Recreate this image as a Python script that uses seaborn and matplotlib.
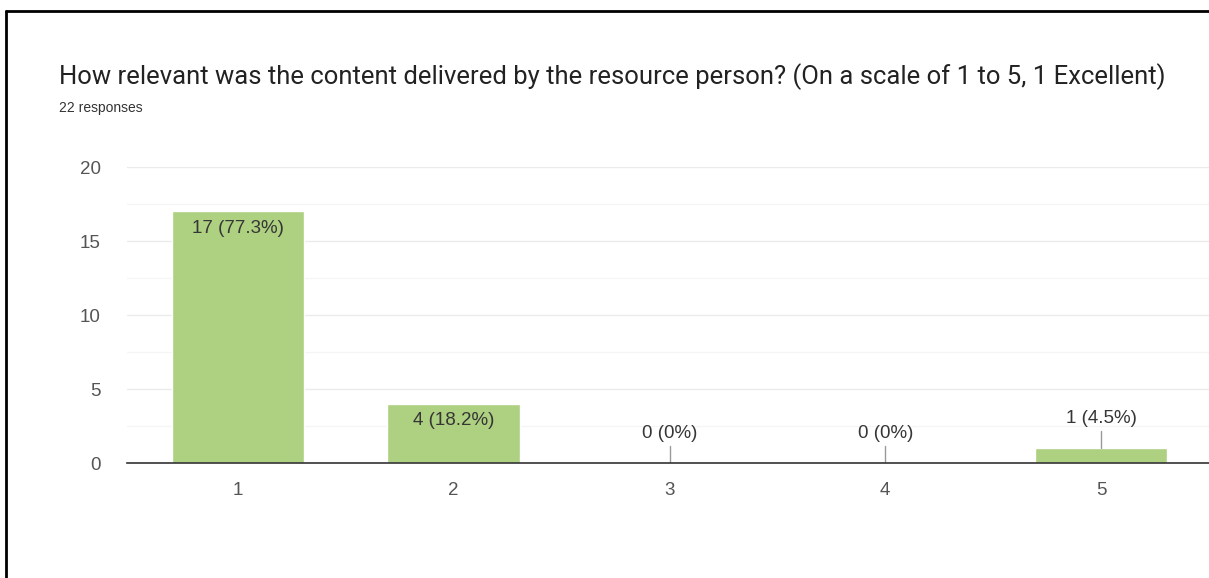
import matplotlib

matplotlib.use("Agg")
import matplotlib.pyplot as plt
import pandas as pd
import seaborn as sns
from matplotlib.lines import Line2D

categories = ["1", "2", "3", "4", "5"]
counts = [17, 4, 0, 0, 1]
percent_labels = ["77.3%", "18.2%", "0%", "0%", "4.5%"]
y_ticks = [0, 5, 10, 15, 20]

title = "How relevant was the content delivered by the resource person? (On a scale of 1 to 5, 1 Excellent)"
subtitle = "22 responses"

BAR_COLOR = "#aed081"
TICK_COLOR = "#555555"
LABEL_COLOR = "#363636"
CHART_FONT = ["Liberation Sans", "DejaVu Sans"]

df = pd.DataFrame({"rating": categories, "count": counts, "pct": percent_labels})

sns.set_theme(style="white")
plt.rcParams["font.family"] = ["Roboto", "DejaVu Sans"]

fig = plt.figure(figsize=(12.09, 5.78), dpi=100)
ax = fig.add_axes([127 / 1209, 1 - 463 / 578, 1 - 127 / 1209, (463 - 167) / 578])

sns.barplot(data=df, x="rating", y="count", color=BAR_COLOR, width=0.615, saturation=1, ax=ax)

ax.set_ylim(0, 20)
ax.set_xlim(-0.514, 4.5)
ax.set_yticks(y_ticks)
ax.set_yticks([2.5, 7.5, 12.5, 17.5], minor=True)
ax.grid(axis="y", which="major", color="#ebebeb", linewidth=1)
ax.grid(axis="y", which="minor", color="#f5f5f5", linewidth=1)
ax.set_axisbelow(True)
for side in ["top", "right", "left"]:
    ax.spines[side].set_visible(False)
ax.spines["bottom"].set_color("#333333")
ax.spines["bottom"].set_linewidth(1.2)
ax.tick_params(axis="both", length=0, labelsize=13.5, colors=TICK_COLOR)
ax.tick_params(axis="y", pad=19)
ax.tick_params(axis="x", pad=14)
for lbl in ax.get_xticklabels() + ax.get_yticklabels():
    lbl.set_family(CHART_FONT)
ax.set_xlabel("")
ax.set_ylabel("")

# value labels: inside tall bars, above short bars with a leader line
for i, (c, p) in enumerate(zip(counts, percent_labels)):
    if c >= 3:
        ax.text(i, c - 0.55, f"{c} ({p})", ha="center", va="top", fontsize=13.5,
                color=LABEL_COLOR, family=CHART_FONT)
    else:
        ax.plot([i, i], [c, c + 1.15], color="#999999", linewidth=1)
        ax.text(i, c + 1.45, f"{c} ({p})", ha="center", va="bottom", fontsize=13.5,
                color=LABEL_COLOR, family=CHART_FONT)

fig.text(59 / 1209, 1 - 77 / 578, title, fontsize=18.45, color="#222222", va="center", ha="left")
fig.text(59 / 1209, 1 - 108 / 578, subtitle, fontsize=10, color="#333333", va="center", ha="left",
         family=CHART_FONT)

# outer frame (top and left edges visible)
fig.add_artist(Line2D([6 / 1209, 1], [1 - 11 / 578, 1 - 11 / 578], color="black", linewidth=2, transform=fig.transFigure))
fig.add_artist(Line2D([6 / 1209, 6 / 1209], [0, 1 - 11 / 578], color="black", linewidth=2, transform=fig.transFigure))

fig.savefig("out.png", dpi=100, facecolor="white")
